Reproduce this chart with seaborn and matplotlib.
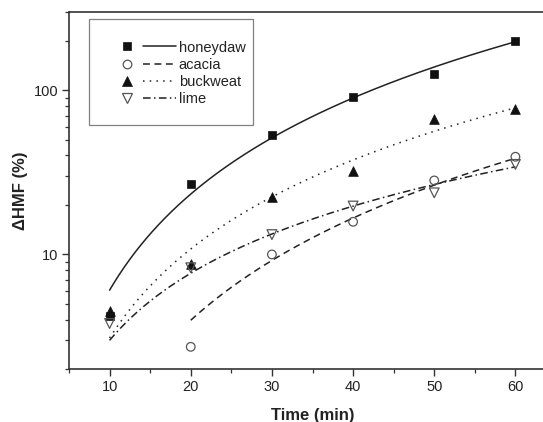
import numpy as np
import pandas as pd
import matplotlib
matplotlib.use("Agg")
import matplotlib.pyplot as plt
import seaborn as sns
from matplotlib.lines import Line2D
from matplotlib.legend_handler import HandlerTuple
from matplotlib.patches import Rectangle
from matplotlib.ticker import LogLocator, NullFormatter, MultipleLocator, FixedLocator

# ---- data ----
time_min = [10, 20, 30, 40, 50, 60]
acacia_time = [20, 30, 40, 50, 60]
honeydaw = [4.2, 27.0, 53.2, 91.0, 126.0, 199.0]
acacia = [2.74, 10.0, 15.8, 28.2, 39.3]
buckweat = [4.5, 8.8, 22.4, 32.3, 66.3, 76.3]
lime = [3.8, 8.3, 13.2, 19.7, 23.7, 35.3]

series_names = ["honeydaw", "acacia", "buckweat", "lime"]

# fitted power-law curves, y = a * (t / 10) ** b, parameters
fit_a = [6.06, 0.95, 3.1, 3.0]
fit_b = [1.943, 2.066, 1.80, 1.357]
fit_start = [10, 20, 10, 10]
fit_end = [60, 60, 60, 60]

# ---- styling ----
sns.set_style("ticks")
plt.rcParams["font.family"] = ["Liberation Sans", "DejaVu Sans"]

ink = "#222222"
spine_col = "#333333"
hollow_col = "#555555"

line_styles = ["-", (0, (4.5, 3.0)), (0, (1.0, 3.4)), (0, (5.0, 2.2, 1.0, 2.2))]
markers = ["s", "o", "^", "v"]
marker_sizes = [5.6, 6.2, 7.0, 7.0]
filled = [True, False, True, False]

fig = plt.figure(figsize=(5.43, 4.22), dpi=100)
W, H = 543, 422
ax = fig.add_axes([69 / W, (H - 369.3) / H, 487 / W, (369.3 - 11.7) / H])

xs_data = [time_min, acacia_time, time_min, time_min]
ys_data = [honeydaw, acacia, buckweat, lime]

lw = 1.1
for i, name in enumerate(series_names):
    t = np.linspace(fit_start[i], fit_end[i], 300)
    yfit = fit_a[i] * (t / 10.0) ** fit_b[i]
    sns.lineplot(x=t, y=yfit, ax=ax, color=ink, lw=lw, sort=False,
                 estimator=None)
    ax.lines[-1].set_linestyle(line_styles[i])

for i, name in enumerate(series_names):
    df = pd.DataFrame({"t": xs_data[i], "v": ys_data[i]})
    if filled[i]:
        sns.scatterplot(data=df, x="t", y="v", ax=ax, marker=markers[i],
                        s=marker_sizes[i] ** 2, color="#111111",
                        edgecolor="#111111", linewidth=0.5, zorder=5)
    else:
        sns.scatterplot(data=df, x="t", y="v", ax=ax, marker=markers[i],
                        s=marker_sizes[i] ** 2, facecolor="none",
                        edgecolor=hollow_col, linewidth=0.9, zorder=5)

ax.set_yscale("log")
ax.set_xlim(5, 65)
ax.set_ylim(2, 300)

ax.xaxis.set_major_locator(FixedLocator([10, 20, 30, 40, 50, 60]))
ax.xaxis.set_minor_locator(MultipleLocator(5))
ax.yaxis.set_major_locator(LogLocator(base=10))
ax.yaxis.set_minor_locator(LogLocator(base=10, subs=np.arange(2, 10)))
ax.yaxis.set_minor_formatter(NullFormatter())
ax.yaxis.set_major_formatter(matplotlib.ticker.FuncFormatter(lambda v, p: f"{v:g}"))

for side in ["left", "bottom", "top", "right"]:
    ax.spines[side].set_color(spine_col)
    ax.spines[side].set_linewidth(1.2)
    ax.spines[side].set_visible(True)

ax.tick_params(axis="both", which="major", direction="out", length=4.8,
               width=1.0, color=spine_col, labelsize=10.5, labelcolor=ink, pad=3)
ax.tick_params(axis="both", which="minor", direction="out", length=3.0,
               width=0.9, color=spine_col)
ax.tick_params(top=False, right=False, which="both")

ax.set_xlabel("Time (min)", fontsize=12, fontweight="bold", color=ink, va="center")
ax.xaxis.set_label_coords(0.5, -0.128)
ax.set_ylabel("ΔHMF (%)", fontsize=12, fontweight="bold", color=ink, va="center")
ax.yaxis.set_label_coords(-0.099, 0.5)

# legend: marker followed by line sample (Origin style)
handles = []
for i in range(4):
    if filled[i]:
        mk = Line2D([], [], linestyle="none", marker=markers[i],
                    markersize=marker_sizes[i], markerfacecolor="#111111",
                    markeredgecolor="#111111", markeredgewidth=0.5)
    else:
        mk = Line2D([], [], linestyle="none", marker=markers[i],
                    markersize=marker_sizes[i], markerfacecolor="none",
                    markeredgecolor=hollow_col, markeredgewidth=0.9)
    ln = Line2D([], [], color=ink, lw=lw, linestyle=line_styles[i])
    handles.append((mk, ln))

leg = ax.legend(handles, series_names,
                handler_map={tuple: HandlerTuple(ndivide=2, pad=0.0)},
                loc="upper left", bbox_to_anchor=(110.5 / W, 1 - 40.6 / H),
                bbox_transform=fig.transFigure, frameon=False,
                fontsize=10.5, handlelength=4.5, handletextpad=0.17,
                labelspacing=0.22, borderpad=0, borderaxespad=0)
for txt in leg.get_texts():
    txt.set_color(ink)

box = Rectangle((89 / W, 1 - 125 / H), 164 / W, 106 / H,
                transform=fig.transFigure, fill=False, edgecolor="#808080",
                linewidth=0.9)
fig.add_artist(box)

fig.savefig("out.png", dpi=100)
